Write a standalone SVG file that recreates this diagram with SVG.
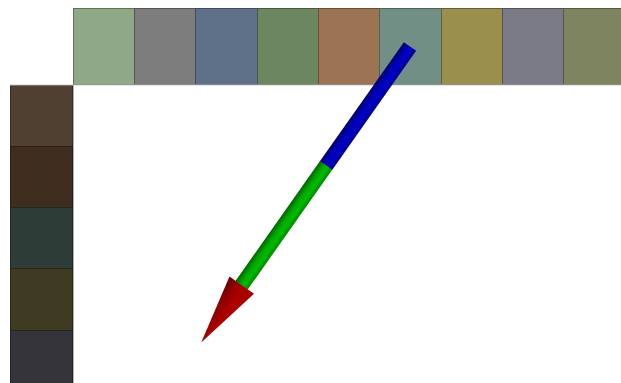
<svg xmlns="http://www.w3.org/2000/svg" width="621" height="383" viewBox="0 0 621 383">
<defs>
<style>
.sq{stroke-width:1}
</style>
<linearGradient id="gb" gradientUnits="userSpaceOnUse" x1="0" y1="-7.5" x2="0" y2="7.5">
<stop offset="0" stop-color="#00008a"/><stop offset="0.35" stop-color="#0000c8"/><stop offset="0.6" stop-color="#0000b8"/><stop offset="1" stop-color="#00006a"/>
</linearGradient>
<linearGradient id="gg" gradientUnits="userSpaceOnUse" x1="0" y1="-7.5" x2="0" y2="7.5">
<stop offset="0" stop-color="#008a00"/><stop offset="0.35" stop-color="#00bb00"/><stop offset="0.6" stop-color="#00aa00"/><stop offset="1" stop-color="#006400"/>
</linearGradient>
<linearGradient id="gr" gradientUnits="userSpaceOnUse" x1="0" y1="-15" x2="0" y2="15">
<stop offset="0" stop-color="#a00000"/><stop offset="0.35" stop-color="#b00000"/><stop offset="0.7" stop-color="#900000"/><stop offset="1" stop-color="#600000"/>
</linearGradient>
</defs>
<rect width="621" height="383" fill="#ffffff"/>
<g id="top-row">
<rect class="sq" x="73.5" y="8.5" width="61" height="76" fill="#8fa886" stroke="#5f7158"/>
<rect class="sq" x="134.5" y="8.5" width="61" height="76" fill="#7d7d7d" stroke="#555555"/>
<rect class="sq" x="195.5" y="8.5" width="62" height="76" fill="#5f7189" stroke="#404c5c"/>
<rect class="sq" x="257.5" y="8.5" width="61" height="76" fill="#6b8660" stroke="#485a41"/>
<rect class="sq" x="318.5" y="8.5" width="61" height="76" fill="#9b7553" stroke="#684e38"/>
<rect class="sq" x="379.5" y="8.5" width="62" height="76" fill="#728f85" stroke="#4d6059"/>
<rect class="sq" x="441.5" y="8.5" width="61" height="76" fill="#9a8f4d" stroke="#686034"/>
<rect class="sq" x="502.5" y="8.5" width="61" height="76" fill="#7b7b87" stroke="#52525b"/>
<rect class="sq" x="563.5" y="8.5" width="62" height="76" fill="#7f8460" stroke="#555940"/>
</g>
<g id="left-column">
<rect class="sq" x="10.5" y="85.5" width="62" height="61" fill="#4f4032" stroke="#352b22"/>
<rect class="sq" x="10.5" y="146.5" width="62" height="61" fill="#3f2e20" stroke="#2a1f15"/>
<rect class="sq" x="10.5" y="207.5" width="62" height="61" fill="#2e3c37" stroke="#1f2825"/>
<rect class="sq" x="10.5" y="268.5" width="62" height="62" fill="#3f3a22" stroke="#2a2717"/>
<rect class="sq" x="10.5" y="330.5" width="62" height="61" fill="#35343a" stroke="#242327"/>
</g>
<g id="axes">
<line x1="10" y1="85" x2="621" y2="85" stroke="#c8c8c8" stroke-width="1"/>
<line x1="73.5" y1="85" x2="73.5" y2="383" stroke="#b0b0b0" stroke-width="1"/>
</g>
<g id="arrow" transform="translate(410,46.5) rotate(125.2)">
<rect x="0" y="-7.5" width="146" height="15" fill="url(#gb)"/>
<rect x="145.5" y="-7.5" width="147" height="15" fill="url(#gg)"/>
<polygon points="291.9,-15 291.9,15 362.2,0" fill="url(#gr)"/>
</g>
</svg>
